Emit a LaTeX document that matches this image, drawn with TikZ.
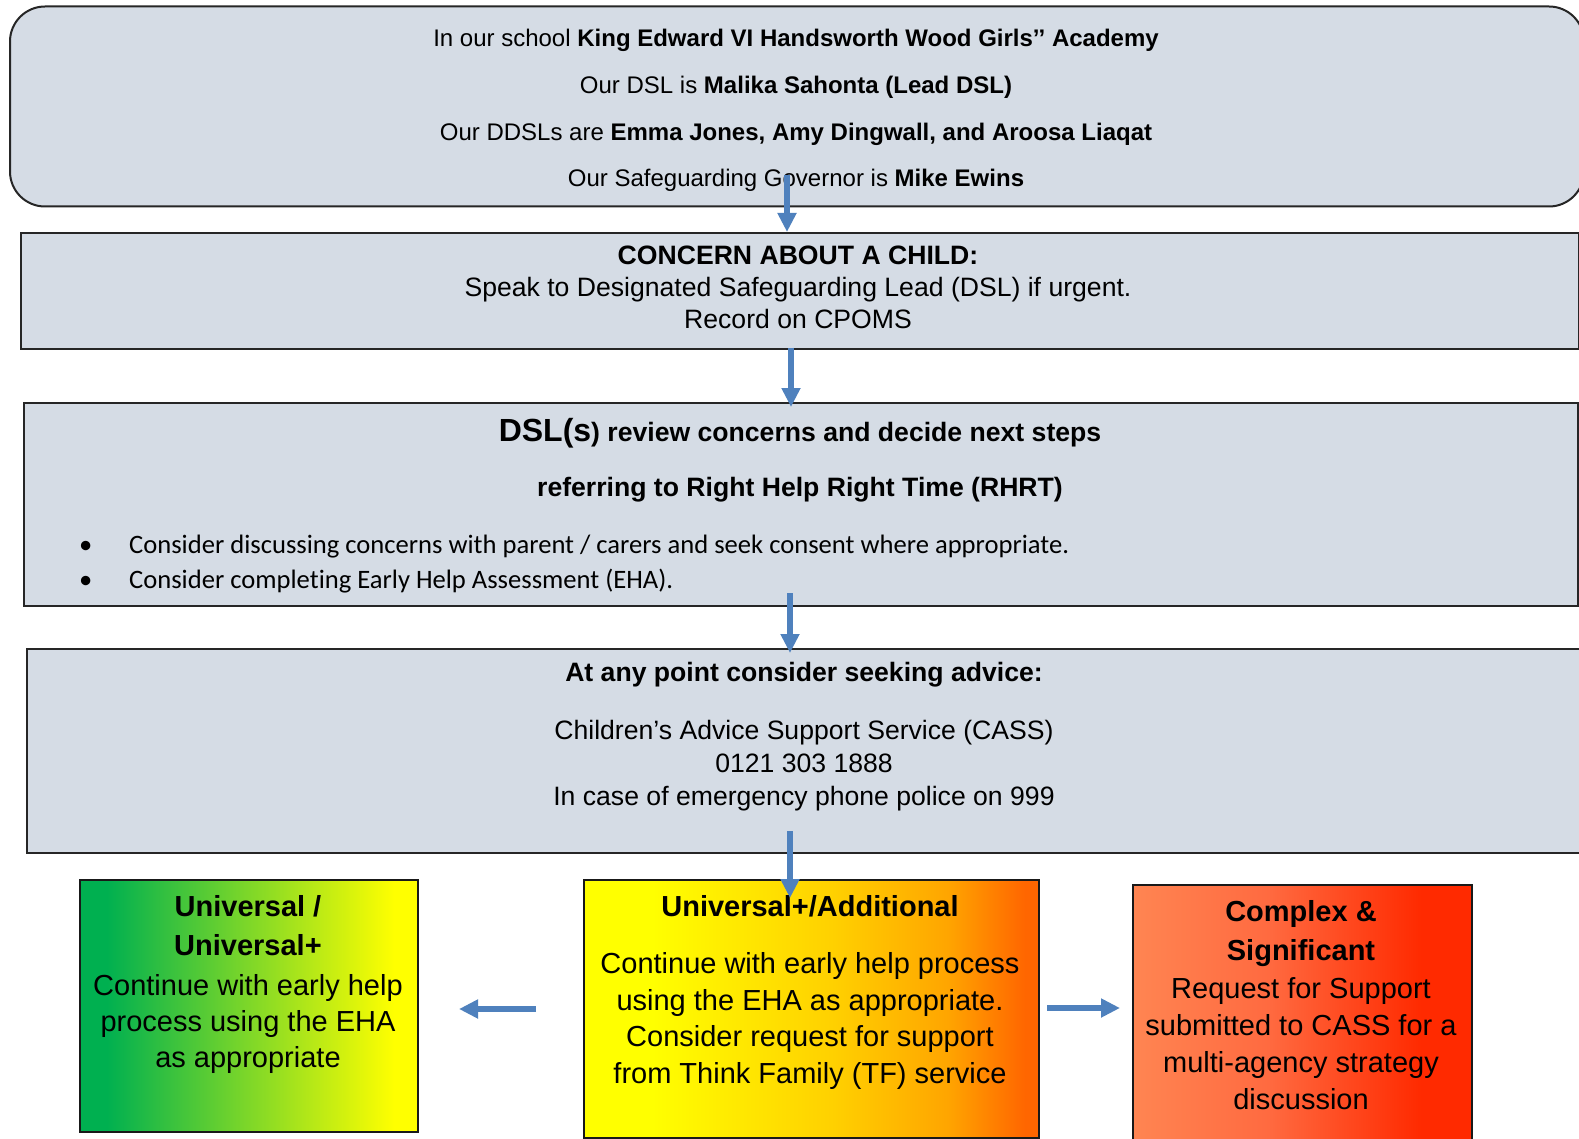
\documentclass[tikz,border=0pt]{standalone}
\usepackage{fontspec}
\setmainfont{Liberation Sans}
\newfontfamily\calibri[Ligatures={NoCommon}]{Carlito}
\usetikzlibrary{arrows.meta}
\definecolor{boxblue}{RGB}{213,220,229}
\definecolor{arrblue}{RGB}{79,129,189}
\definecolor{cgreen}{RGB}{0,176,80}
\definecolor{cyellow}{RGB}{255,255,0}
\definecolor{cgold}{RGB}{255,208,0}
\definecolor{corange}{RGB}{255,165,0}
\definecolor{cdorange}{RGB}{255,102,0}
\definecolor{csalmon}{RGB}{255,133,82}
\definecolor{cmid}{RGB}{255,106,64}
\definecolor{cred}{RGB}{255,42,0}
\pgfdeclarehorizontalshading{greenyellow}{100bp}{color(0bp)=(cgreen); color(29bp)=(cgreen); color(71.5bp)=(cyellow); color(100bp)=(cyellow)}
\pgfdeclarehorizontalshading{yelloworange}{100bp}{color(0bp)=(cyellow); color(32.5bp)=(cyellow); color(52.5bp)=(cgold); color(65bp)=(corange); color(73.5bp)=(cdorange); color(100bp)=(cdorange)}
\pgfdeclarehorizontalshading{salmonred}{100bp}{color(0bp)=(csalmon); color(25bp)=(csalmon); color(45bp)=(cmid); color(67.5bp)=(cred); color(100bp)=(cred)}
\newcommand{\fl}{\rule{0pt}{30pt}}
\begin{document}
\begin{tikzpicture}[x=1pt,y=-1pt,
  bluebox/.style={draw=black!85, line width=2pt, fill=boxblue, inner sep=0pt},
  colbox/.style={draw=black!90, line width=2pt, inner sep=0pt},
  txt/.style={inner sep=0pt, align=center, text=black},
  arr/.style={draw=arrblue, line width=5.5pt, -{Triangle[width=18pt,length=19pt]}}]
\useasboundingbox (0,0) rectangle (1579,1139);
\clip (0,0) rectangle (1579,1139);
\fill[white] (0,0) rectangle (1579,1139);

% top box
\node[bluebox, rounded corners=35pt, minimum width=1574pt, minimum height=200pt, anchor=north west] (top) at (9,5.5) {};
\node[txt, anchor=north, font=\fontsize{24}{46.7}\selectfont] (toptxt) at (796,16.7)
  {\fl In our school \textbf{King Edward VI Handsworth Wood Girls’’ Academy}\\
   Our DSL is \textbf{Malika Sahonta (Lead DSL)}\\
   Our DDSLs are \textbf{Emma Jones, Amy Dingwall, and Aroosa Liaqat}\\
   Our Safeguarding Governor is \textbf{Mike Ewins}};

% concern box
\node[bluebox, minimum width=1558pt, minimum height=116pt, anchor=north west] (concern) at (19.5,232) {};
\node[txt, anchor=north, font=\fontsize{26.6}{32}\selectfont] (concerntxt) at (798,234.3)
  {\fl\textbf{CONCERN ABOUT A CHILD:}\\
   Speak to Designated Safeguarding Lead (DSL) if urgent.\\
   Record on CPOMS};

% review box
\node[bluebox, minimum width=1554pt, minimum height=203pt, anchor=north west] (review) at (23,402) {};
\node[txt, anchor=north, font=\fontsize{26.6}{55}\selectfont\bfseries] (reviewtxt) at (800,411.7)
  {\fl{\fontsize{32}{55}\selectfont DSL(s}) review concerns and decide next steps\\
   referring to Right Help Right Time (RHRT)};
\node[inner sep=0pt, align=left, anchor=north west, font=\calibri\fontsize{26.6}{35}\selectfont] (bullets) at (79,523.3)
  {\fl\makebox[50pt][l]{•}Consider discussing concerns with parent / carers and seek consent where appropriate.\\
   \makebox[50pt][l]{•}Consider completing Early Help Assessment (EHA).};

% advice box
\node[bluebox, minimum width=1560pt, minimum height=204pt, anchor=north west] (advice) at (26,648) {};
\node[txt, anchor=north, font=\fontsize{26.6}{33}\selectfont] (advicetxt) at (804,651.7)
  {\fl\textbf{At any point consider seeking advice:}\\[24.3pt]
   Children’s Advice Support Service (CASS)\\
   0121 303 1888\\
   In case of emergency phone police on 999};

% bottom boxes
\node[colbox, shading=greenyellow, minimum width=338.4pt, minimum height=252pt, anchor=north west] (universal) at (78.6,879) {};
\node[txt, anchor=north, font=\fontsize{29}{36}\selectfont] (universaltxt) at (248,886)
  {\fl\textbf{Universal /}\\[3pt]
   \textbf{Universal+}\\[4pt]
   Continue with early help\\
   process using the EHA\\
   as appropriate};

\node[colbox, shading=yelloworange, minimum width=454.5pt, minimum height=258pt, anchor=north west] (additional) at (583,879) {};
\node[txt, anchor=north, font=\fontsize{29}{36.7}\selectfont] (additionaltxt) at (810,886)
  {\fl\textbf{Universal+/Additional}\\[20.6pt]
   Continue with early help process\\
   using the EHA as appropriate.\\
   Consider request for support\\
   from Think Family (TF) service};

\node[colbox, shading=salmonred, minimum width=339pt, minimum height=270pt, anchor=north west] (complex) at (1132,884) {};
\node[txt, anchor=north, font=\fontsize{29}{37}\selectfont] (complextxt) at (1301,891.7)
  {\fl\textbf{Complex \&}\\[1.3pt]
   \textbf{Significant}\\[1.3pt]
   Request for Support\\
   submitted to CASS for a\\
   multi-agency strategy\\
   discussion};

% arrows
\coordinate (a1s) at (787,175);
\coordinate (a2s) at (791,348);
\coordinate (a2e) at (791,407);
\coordinate (a3s) at (790,593);
\coordinate (a3e) at (790,653);
\coordinate (a4s) at (790,831);
\coordinate (a4e) at (790,898);
\coordinate (als) at (536,1009);
\coordinate (ale) at (459,1009);
\coordinate (ars) at (1047,1008);
\coordinate (are) at (1120,1008);
\draw[arr] (a1s) -- (a1s |- concern.north);
\draw[arr] (a2s) -- (a2e);
\draw[arr] (a3s) -- (a3e);
\draw[arr] (a4s) -- (a4e);
\draw[arr] (als) -- (ale);
\draw[arr] (ars) -- (are);
\end{tikzpicture}
\end{document}
